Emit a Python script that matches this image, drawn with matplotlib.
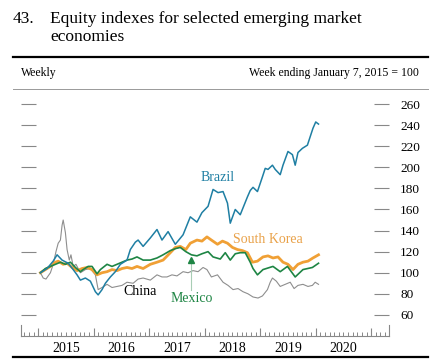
import matplotlib
matplotlib.use("Agg")
import matplotlib.pyplot as plt
from matplotlib.lines import Line2D
from matplotlib.ticker import MultipleLocator

plt.rcParams['font.family'] = ['Liberation Serif', 'DejaVu Serif']

# ---- data (decimal years, index values) ----
brazil_t = [2015.04, 2015.16, 2015.27, 2015.34, 2015.43, 2015.54, 2015.63, 2015.70, 2015.76, 2015.85,
            2015.94, 2016.03, 2016.08, 2016.15, 2016.21, 2016.30, 2016.39, 2016.48, 2016.60, 2016.66,
            2016.75, 2016.80, 2016.89, 2017.02, 2017.14, 2017.23, 2017.34, 2017.47, 2017.61, 2017.74,
            2017.86, 2017.95, 2018.06, 2018.15, 2018.24, 2018.33, 2018.41, 2018.46, 2018.55, 2018.64,
            2018.77, 2018.82, 2018.87, 2018.95, 2019.04, 2019.09, 2019.14, 2019.22, 2019.27, 2019.36,
            2019.41, 2019.50, 2019.58, 2019.63, 2019.68, 2019.76, 2019.85, 2019.90, 2019.95, 2020.00, 2020.05]
brazil_v = [100, 104, 111, 117, 112, 109, 103, 98, 93, 95,
            92, 82, 79, 84, 90, 96, 101, 108, 112, 122,
            129, 131, 125, 133, 141, 131, 139, 127, 136, 153,
            148, 157, 163, 179, 176, 177, 166, 147, 160, 155,
            172, 178, 181, 177, 191, 199, 198, 202, 198, 193,
            202, 215, 212, 202, 214, 218, 221, 229, 237, 243, 241]

korea_t = [2015.04, 2015.13, 2015.22, 2015.31, 2015.36, 2015.45, 2015.52, 2015.61, 2015.70, 2015.79,
           2015.88, 2015.97, 2016.06, 2016.15, 2016.24, 2016.33, 2016.42, 2016.51, 2016.60, 2016.69,
           2016.78, 2016.89, 2017.02, 2017.14, 2017.25, 2017.38, 2017.47, 2017.56, 2017.66, 2017.74,
           2017.86, 2017.95, 2018.04, 2018.12, 2018.23, 2018.32, 2018.41, 2018.50, 2018.59, 2018.68,
           2018.77, 2018.86, 2018.95, 2019.05, 2019.14, 2019.23, 2019.32, 2019.41, 2019.50, 2019.59,
           2019.68, 2019.77, 2019.86, 2019.95, 2020.05]
korea_v = [100, 103, 106, 110, 111, 108, 109, 105, 102, 104,
           105, 103, 98, 100, 101, 103, 102, 104, 105, 104,
           106, 104, 108, 110, 112, 119, 124, 125, 122, 128,
           131, 130, 134, 131, 127, 130, 128, 124, 122, 121,
           119, 110, 111, 115, 116, 114, 115, 110, 108, 103,
           108, 110, 111, 114, 117]

mexico_t = [2015.04, 2015.13, 2015.22, 2015.31, 2015.40, 2015.49, 2015.58, 2015.67, 2015.76, 2015.81,
            2015.90, 2015.97, 2016.06, 2016.12, 2016.24, 2016.33, 2016.42, 2016.51, 2016.60, 2016.69,
            2016.78, 2016.89, 2017.02, 2017.14, 2017.25, 2017.38, 2017.48, 2017.56, 2017.66, 2017.76,
            2017.86, 2017.95, 2018.06, 2018.15, 2018.28, 2018.37, 2018.46, 2018.55, 2018.64, 2018.73,
            2018.82, 2018.87, 2018.95, 2019.05, 2019.23, 2019.36, 2019.49, 2019.63, 2019.77, 2019.94, 2020.05]
mexico_v = [100, 104, 106, 108, 110, 108, 110, 105, 101, 103,
            106, 106, 99, 103, 108, 106, 108, 110, 112, 113,
            115, 112, 112, 114, 117, 121, 123, 124, 120, 117,
            116, 118, 120, 115, 113, 119, 112, 118, 119, 119,
            110, 104, 98, 103, 106, 101, 106, 96, 103, 105, 109]

china_t = [2015.04, 2015.09, 2015.14, 2015.22, 2015.27, 2015.32, 2015.36, 2015.40, 2015.43, 2015.45,
           2015.49, 2015.52, 2015.56, 2015.59, 2015.63, 2015.68, 2015.76, 2015.85, 2015.94, 2016.03,
           2016.08, 2016.15, 2016.24, 2016.33, 2016.42, 2016.51, 2016.60, 2016.71, 2016.80, 2016.89,
           2017.02, 2017.14, 2017.23, 2017.32, 2017.41, 2017.50, 2017.61, 2017.70, 2017.79, 2017.88,
           2017.97, 2018.04, 2018.12, 2018.23, 2018.33, 2018.42, 2018.51, 2018.60, 2018.69, 2018.78,
           2018.87, 2018.96, 2019.04, 2019.13, 2019.18, 2019.22, 2019.29, 2019.36, 2019.45, 2019.54,
           2019.61, 2019.68, 2019.77, 2019.86, 2019.94, 2019.99, 2020.05]
china_v = [100, 95, 94, 100, 108, 120, 128, 131, 145, 150,
           138, 122, 112, 117, 106, 108, 100, 103, 104, 98,
           84, 86, 89, 86, 87, 88, 91, 90, 94, 95,
           93, 98, 96, 96, 98, 97, 101, 100, 102, 101,
           105, 103, 96, 98, 91, 88, 84, 85, 82, 80,
           77, 76, 78, 84, 91, 95, 92, 87, 89, 91,
           85, 88, 89, 87, 88, 91, 89]

years = [2015, 2016, 2017, 2018, 2019, 2020]
y_ticks = [60, 80, 100, 120, 140, 160, 180, 200, 220, 240, 260]

c_brazil = '#1F7FA3'
c_korea = '#F0A035'
c_mexico = '#1E8544'
c_china = '#8E8E8E'

fig = plt.figure(figsize=(4.45, 3.64), dpi=100)
W, H = 445, 364
ax = fig.add_axes([21 / W, 1 - 336 / H, (389 - 21) / W, (336 - 93.5) / H])

ax.plot(china_t, china_v, color=c_china, lw=0.8)
ax.plot(korea_t, korea_v, color=c_korea, lw=2.0)
ax.plot(mexico_t, mexico_v, color=c_mexico, lw=1.2)
ax.plot(brazil_t, brazil_v, color=c_brazil, lw=1.1)

ax.set_xlim(2014.69, 2021.32)
ax.set_ylim(40, 270)

for s in ['top']:
    ax.spines[s].set_visible(False)
for s in ['left', 'right']:
    ax.spines[s].set_bounds(40, 50.5)
    ax.spines[s].set_color('#888888')
    ax.spines[s].set_linewidth(0.8)
ax.spines['bottom'].set_color('#888888')
ax.spines['bottom'].set_linewidth(0.8)

ax.set_yticks(y_ticks)
ax.tick_params(axis='y', which='both', left=True, right=True, labelleft=False, labelright=True,
               direction='in', length=11, width=0.8, color='#888888', pad=8, labelsize=9.5)
ax.set_xticks(list(range(2015, 2022)))
ax.xaxis.set_minor_locator(MultipleLocator(1 / 12))
ax.tick_params(axis='x', which='major', direction='in', length=6, width=0.8, color='#888888',
               labelbottom=False)
ax.tick_params(axis='x', which='minor', direction='in', length=3, width=0.7, color='#888888')

for yr in years:
    ax.text(yr + 0.5, -0.05, str(yr), transform=ax.get_xaxis_transform(),
            ha='center', va='center', fontsize=10)

# series labels
ax.text(2018.23, 190, 'Brazil', color=c_brazil, fontsize=10, ha='center', va='center')
ax.text(2018.51, 132, 'South Korea', color='#E9A24A', fontsize=10, ha='left', va='center')
ax.text(2016.84, 82, 'China', color='black', fontsize=10, ha='center', va='center')
ax.text(2017.76, 76, 'Mexico', color=c_mexico, fontsize=10, ha='center', va='center')
ax.plot([2017.76, 2017.76], [84, 110], color='#A8CDB5', lw=0.8)
ax.plot([2017.76], [112.5], marker='^', color=c_mexico, markersize=5, linestyle='none')

# header
fig.text(13 / W, 1 - 19 / H, '43.', fontsize=12.5, ha='left', va='center')
fig.text(50 / W, 1 - 19 / H, 'Equity indexes for selected emerging market', fontsize=12.5,
         ha='left', va='center')
fig.text(50 / W, 1 - 37 / H, 'economies', fontsize=12.5, ha='left', va='center')
fig.add_artist(Line2D([13 / W, 428 / W], [1 - 57 / H, 1 - 57 / H], color='black', lw=1.6,
                      transform=fig.transFigure))
fig.text(21 / W, 1 - 73 / H, 'Weekly', fontsize=8.5, ha='left', va='center')
fig.text(419 / W, 1 - 73 / H, 'Week ending January 7, 2015 = 100', fontsize=8.5, ha='right',
         va='center')
fig.add_artist(Line2D([13 / W, 428 / W], [1 - 89 / H, 1 - 89 / H], color='#999999', lw=0.7,
                      transform=fig.transFigure))
fig.add_artist(Line2D([13 / W, 428 / W], [1 - 357 / H, 1 - 357 / H], color='black', lw=1.6,
                      transform=fig.transFigure))

fig.savefig('out.png', dpi=100)
